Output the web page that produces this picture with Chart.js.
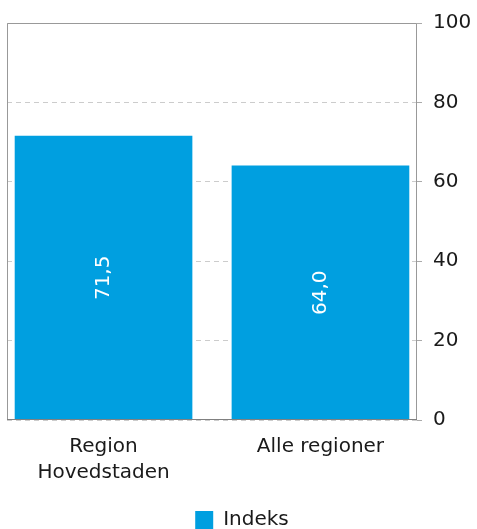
<!DOCTYPE html>
<html>
<head>
<meta charset="utf-8">
<script src="https://cdn.jsdelivr.net/npm/chart.js@4/dist/chart.umd.min.js"></script>
<style>
html,body{margin:0;padding:0;background:#fff;overflow:hidden;}
#wrap{position:relative;width:477px;height:540px;}
</style>
</head>
<body>
<div id="wrap"><canvas id="c"></canvas></div>
<script>
const categories = [["Region", "Hovedstaden"], ["Alle regioner"]];
const seriesName = "Indeks";
const values = [71.5, 64.0];
const yTicks = [0, 20, 40, 60, 80, 100];

const FONT = "'DejaVu Sans', sans-serif";

const framePlugin = {
  id: 'frame',
  afterDraw(chart) {
    const a = chart.chartArea, ctx = chart.ctx;
    ctx.save();
    ctx.strokeStyle = '#999';
    ctx.lineWidth = 1;
    ctx.beginPath();
    ctx.moveTo(a.left + 0.5, a.bottom);
    ctx.lineTo(a.left + 0.5, a.top + 0.5);
    ctx.lineTo(a.right - 0.5, a.top + 0.5);
    ctx.lineTo(a.right - 0.5, a.bottom);
    ctx.stroke();
    ctx.strokeStyle = '#808080';
    ctx.beginPath();
    ctx.moveTo(a.left, a.bottom - 0.5);
    ctx.lineTo(a.right, a.bottom - 0.5);
    ctx.stroke();
    ctx.restore();
  }
};

const labelPlugin = {
  id: 'barLabels',
  afterDatasetsDraw(chart) {
    const ctx = chart.ctx;
    const meta = chart.getDatasetMeta(0);
    ctx.save();
    ctx.fillStyle = '#ffffff';
    ctx.font = '20px ' + FONT;
    ctx.textAlign = 'center';
    ctx.textBaseline = 'middle';
    meta.data.forEach((bar, i) => {
      const v = values[i];
      const txt = v.toFixed(1).replace('.', ',');
      const cy = (bar.y + bar.base) / 2;
      ctx.save();
      ctx.translate(bar.x, cy);
      ctx.rotate(-Math.PI / 2);
      ctx.fillText(txt, 0, 0);
      ctx.restore();
    });
    ctx.restore();
  }
};

new Chart(document.getElementById('c'), {
  type: 'bar',
  data: {
    datasets: [{
      label: seriesName,
      data: values.map((v, i) => ({ x: i, y: v })),
      backgroundColor: '#009fe0',
      borderWidth: 0,
      barThickness: 177
    }]
  },
  options: {
    responsive: true,
    maintainAspectRatio: false,
    animation: false,
    parsing: true,
    layout: { padding: { left: 7, top: 14, right: 0, bottom: 0 } },
    plugins: {
      tooltip: { enabled: false },
      legend: {
        position: 'bottom',
        labels: {
          boxWidth: 18,
          boxHeight: 18,
          padding: 10,
          color: '#1a1a1a',
          font: { family: FONT, size: 20 },
          useBorderRadius: false
        }
      }
    },
    scales: {
      x: {
        type: 'linear',
        min: -0.445,
        max: 1.445,
        offset: false,
        grid: { display: false },
        border: { display: false },
        afterBuildTicks(scale) { scale.ticks = categories.map((c, i) => ({ value: i })); },
        afterFit(scale) { scale.height += 8; },
        ticks: {
          color: '#1a1a1a',
          padding: 6,
          autoSkip: false,
          font: { family: FONT, size: 20, lineHeight: 1.3 },
          maxRotation: 0,
          callback: (v) => categories[v]
        }
      },
      y: {
        position: 'right',
        min: 0,
        max: 100,
        afterBuildTicks(scale) { scale.ticks = yTicks.map(v => ({ value: v })); },
        afterFit(scale) { scale.width = 60; },
        grid: {
          color: '#cccccc',
          tickColor: '#aaaaaa',
          tickLength: 5,
          tickBorderDash: [1, 0],
          drawOnChartArea: true
        },
        border: { display: false, dash: [5, 4] },
        ticks: {
          color: '#1a1a1a',
          padding: 11,
          font: { family: FONT, size: 20 }
        }
      }
    }
  },
  plugins: [framePlugin, labelPlugin]
});
</script>
</body>
</html>
